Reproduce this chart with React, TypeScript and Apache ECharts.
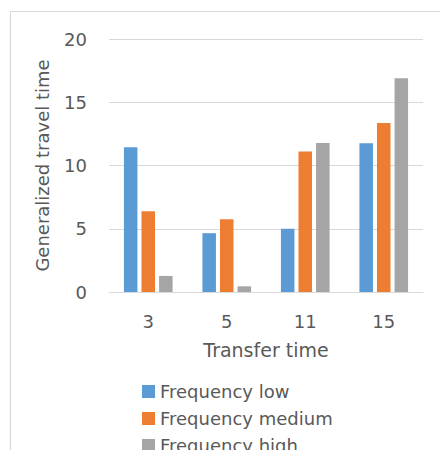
import React, { useEffect, useRef } from "react";
import * as echarts from "echarts";

const categories = ["3", "5", "11", "15"];
const seriesNames = ["Frequency low", "Frequency medium", "Frequency high"];
const lowValues = [11.45, 4.65, 5.0, 11.75];
const mediumValues = [6.38, 5.75, 11.1, 13.35];
const highValues = [1.27, 0.45, 11.78, 16.9];
const colors = ["#5b9bd5", "#ed7d31", "#a5a5a5"];

const FONT = "DejaVu Sans";
const TEXT = "#595959";

export default function App() {
  const ref = useRef<HTMLDivElement>(null);
  useEffect(() => {
    if (!ref.current) return;
    const chart = echarts.init(ref.current, undefined, { renderer: "svg" });
    const values = [lowValues, mediumValues, highValues];
    const legendTops = [377.5, 404.5, 431.5];
    chart.setOption({
      animation: false,
      backgroundColor: "#ffffff",
      textStyle: { fontFamily: FONT },
      graphic: [
        {
          type: "rect",
          shape: { x: 10.5, y: 11.5, width: 440, height: 450 },
          style: { fill: "none", stroke: "#d9d9d9", lineWidth: 1.2 },
          silent: true,
        },
      ],
      grid: { left: 109, right: 17, top: 39, bottom: 158 },
      legend: seriesNames.map((name, i) => ({
        orient: "vertical",
        left: 137,
        top: legendTops[i],
        icon: "rect",
        itemWidth: 13,
        itemHeight: 13,
        itemGap: 6,
        textStyle: { fontFamily: FONT, fontSize: 18, color: TEXT },
        data: [name],
      })),
      xAxis: {
        type: "category",
        data: categories,
        axisLine: { lineStyle: { color: "#d9d9d9" } },
        axisTick: { show: false },
        axisLabel: { color: TEXT, fontSize: 18, fontFamily: FONT, margin: 20 },
        name: "Transfer time",
        nameLocation: "middle",
        nameGap: 48,
        nameTextStyle: { color: TEXT, fontSize: 19, fontFamily: FONT },
      },
      yAxis: {
        type: "value",
        min: 0,
        max: 20,
        interval: 5,
        axisLine: { show: false },
        axisTick: { show: false },
        splitLine: { lineStyle: { color: "#d9d9d9" } },
        axisLabel: { color: TEXT, fontSize: 18, fontFamily: FONT, margin: 22 },
        name: "Generalized travel time",
        nameLocation: "middle",
        nameGap: 58,
        nameTextStyle: { color: TEXT, fontSize: 18, fontFamily: FONT },
      },
      series: seriesNames.map((name, i) => ({
        name,
        type: "bar",
        data: values[i],
        itemStyle: { color: colors[i] },
        barGap: "30%",
        barCategoryGap: "38%",
      })),
    });
    return () => chart.dispose();
  }, []);
  return (
    <div
      ref={ref}
      style={{ position: "absolute", left: 0, top: 0, width: 440, height: 450 }}
    />
  );
}
